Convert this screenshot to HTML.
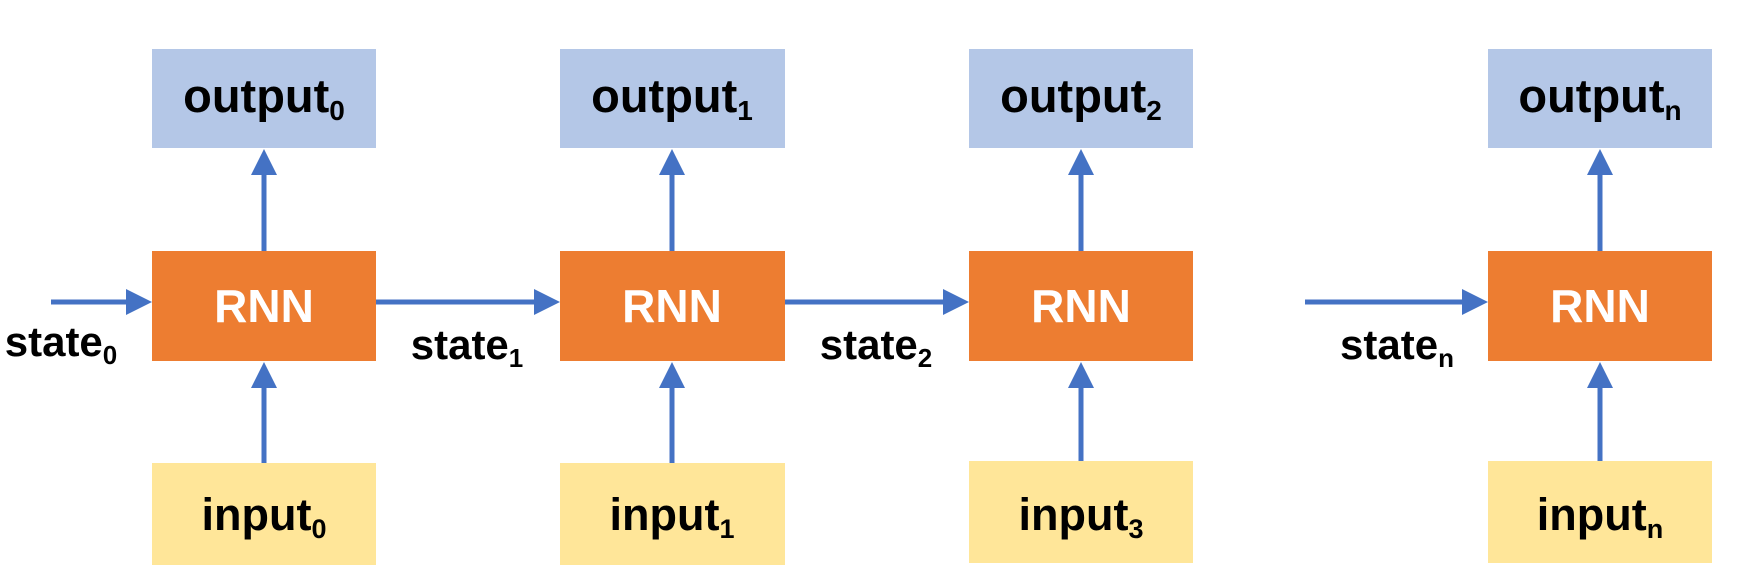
<!DOCTYPE html>
<html><head><meta charset="utf-8"><style>
html,body{margin:0;padding:0;background:#fff;}
svg{display:block;}
text{font-family:"Liberation Sans",Arial,sans-serif;font-weight:bold;}
</style></head><body>
<svg width="1740" height="584" viewBox="0 0 1740 584" xmlns="http://www.w3.org/2000/svg">
<g id="boxes">
<rect x="152" y="49" width="224" height="99" fill="#b4c7e7"/>
<rect x="560" y="49" width="225" height="99" fill="#b4c7e7"/>
<rect x="969" y="49" width="224" height="99" fill="#b4c7e7"/>
<rect x="1488" y="49" width="224" height="99" fill="#b4c7e7"/>
<rect x="152" y="251" width="224" height="110" fill="#ed7d31"/>
<rect x="560" y="251" width="225" height="110" fill="#ed7d31"/>
<rect x="969" y="251" width="224" height="110" fill="#ed7d31"/>
<rect x="1488" y="251" width="224" height="110" fill="#ed7d31"/>
<rect x="152" y="463" width="224" height="102" fill="#ffe699"/>
<rect x="560" y="463" width="225" height="102" fill="#ffe699"/>
<rect x="969" y="461" width="224" height="102" fill="#ffe699"/>
<rect x="1488" y="461" width="224" height="102" fill="#ffe699"/>
</g>
<g fill="#4472c4" stroke="#4472c4">
<line x1="264" y1="251" x2="264" y2="170" stroke-width="5"/><polygon points="264,149 251,175 277,175" stroke="none"/>
<line x1="672" y1="251" x2="672" y2="170" stroke-width="5"/><polygon points="672,149 659,175 685,175" stroke="none"/>
<line x1="1081" y1="251" x2="1081" y2="170" stroke-width="5"/><polygon points="1081,149 1068,175 1094,175" stroke="none"/>
<line x1="1600" y1="251" x2="1600" y2="170" stroke-width="5"/><polygon points="1600,149 1587,175 1613,175" stroke="none"/>
<line x1="264" y1="463" x2="264" y2="382" stroke-width="5"/><polygon points="264,362 251,388 277,388" stroke="none"/>
<line x1="672" y1="463" x2="672" y2="382" stroke-width="5"/><polygon points="672,362 659,388 685,388" stroke="none"/>
<line x1="1081" y1="461" x2="1081" y2="382" stroke-width="5"/><polygon points="1081,362 1068,388 1094,388" stroke="none"/>
<line x1="1600" y1="461" x2="1600" y2="382" stroke-width="5"/><polygon points="1600,362 1587,388 1613,388" stroke="none"/>
<line x1="51" y1="302" x2="130" y2="302" stroke-width="5"/><polygon points="152,302 126,289 126,315" stroke="none"/>
<line x1="376" y1="302" x2="538" y2="302" stroke-width="5"/><polygon points="560,302 534,289 534,315" stroke="none"/>
<line x1="785" y1="302" x2="947" y2="302" stroke-width="5"/><polygon points="969,302 943,289 943,315" stroke="none"/>
<line x1="1305" y1="302" x2="1466" y2="302" stroke-width="5"/><polygon points="1488,302 1462,289 1462,315" stroke="none"/>
</g>
<g font-size="47" text-anchor="middle" fill="#000">
<text x="264" y="112">output<tspan font-size="28" dy="8">0</tspan></text>
<text x="672" y="112">output<tspan font-size="28" dy="8">1</tspan></text>
<text x="1081" y="112">output<tspan font-size="28" dy="8">2</tspan></text>
<text x="1600" y="112">output<tspan font-size="28" dy="8">n</tspan></text>
</g>
<g font-size="45" text-anchor="middle" fill="#000">
<text x="264" y="530">input<tspan font-size="27" dy="8">0</tspan></text>
<text x="672" y="530">input<tspan font-size="27" dy="8">1</tspan></text>
<text x="1081" y="530">input<tspan font-size="27" dy="8">3</tspan></text>
<text x="1600" y="530">input<tspan font-size="27" dy="8">n</tspan></text>
</g>
<g font-size="42" text-anchor="middle" fill="#000">
<text x="61" y="356">state<tspan font-size="26" dy="8">0</tspan></text>
<text x="467" y="359">state<tspan font-size="26" dy="8">1</tspan></text>
<text x="876" y="359">state<tspan font-size="26" dy="8">2</tspan></text>
<text x="1397" y="359">state<tspan font-size="26" dy="8">n</tspan></text>
</g>
<g font-size="46" text-anchor="middle" fill="#fff">
<text x="264" y="322">RNN</text>
<text x="672" y="322">RNN</text>
<text x="1081" y="322">RNN</text>
<text x="1600" y="322">RNN</text>
</g>
</svg>
</body></html>
